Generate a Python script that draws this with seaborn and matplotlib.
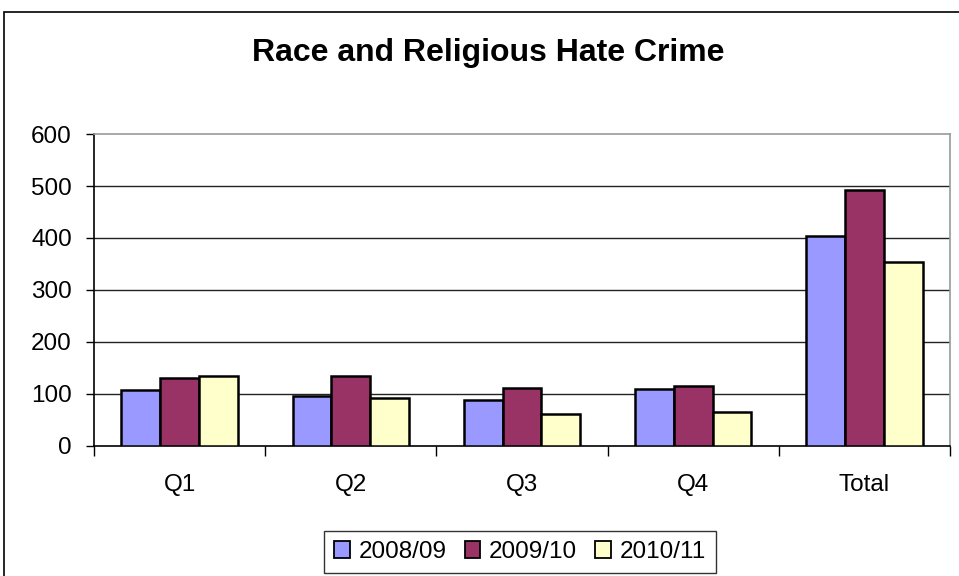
import matplotlib
matplotlib.use("Agg")
import matplotlib.pyplot as plt
import seaborn as sns
import pandas as pd
from matplotlib.patches import Rectangle, Patch

categories = ["Q1", "Q2", "Q3", "Q4", "Total"]
series_names = ["2008/09", "2009/10", "2010/11"]
v_2008 = [108, 97, 89, 109, 404]
v_2009 = [131, 134, 112, 116, 493]
v_2010 = [134, 92, 62, 65, 353]
colors = ["#9999FF", "#993366", "#FFFFCC"]
y_ticks = [0, 100, 200, 300, 400, 500, 600]

rows = []
for name, vals in zip(series_names, [v_2008, v_2009, v_2010]):
    for c, v in zip(categories, vals):
        rows.append({"cat": c, "year": name, "value": v})
df = pd.DataFrame(rows)

sns.set_style("white")
plt.rcParams["font.family"] = ["Liberation Sans", "DejaVu Sans"]
plt.rcParams["text.color"] = "black"
plt.rcParams["xtick.color"] = "black"
plt.rcParams["ytick.color"] = "black"

fig = plt.figure(figsize=(9.59, 5.76), dpi=100)
ax = fig.add_axes([94/959, 1-446/576, (950-94)/959, (446-134)/576])

sns.barplot(data=df, x="cat", y="value", hue="year", order=categories,
            hue_order=series_names, palette=colors, saturation=1, width=0.68, gap=0,
            edgecolor="black", linewidth=1.8, ax=ax, legend=False, zorder=3)

ax.set_ylim(0, 600)
ax.set_xlim(-0.5, 4.5)
ax.set_yticks(y_ticks)
ax.set_yticklabels([str(t) for t in y_ticks], fontsize=17.5, color="black")
for t in y_ticks[1:-1]:
    ax.axhline(t, color="#222222", lw=1.0, zorder=1)

ax.set_xticks([-0.5, 0.5, 1.5, 2.5, 3.5, 4.5])
ax.set_xticklabels([])
ax.set_xticks(range(len(categories)), minor=True)
ax.set_xticklabels(categories, minor=True, fontsize=17.5, color="black")
ax.tick_params(axis="x", which="major", length=7, width=1, color="black", direction="out", bottom=True)
ax.tick_params(axis="x", which="minor", length=0, pad=20)
ax.tick_params(axis="y", length=6, width=1, color="black", direction="out", left=True, pad=10)
ax.set_xlabel("")
ax.set_ylabel("")

for s in ["left", "bottom"]:
    ax.spines[s].set_color("black")
    ax.spines[s].set_linewidth(1.2)
for s in ["top", "right"]:
    ax.spines[s].set_color("#999999")
    ax.spines[s].set_linewidth(1.2)
    ax.spines[s].set_visible(True)

fig.text(488/959, 1-53/576, "Race and Religious Hate Crime", ha="center", va="center",
         fontsize=23, fontweight="bold", color="black")

handles = [Patch(facecolor=c, edgecolor="black", linewidth=1.3) for c in colors]
leg = fig.legend(handles, series_names, loc="center", bbox_to_anchor=(520/959, 1-552/576),
                 ncol=3, fontsize=17.5, frameon=True, fancybox=False, handlelength=0.65,
                 handleheight=0.65, handletextpad=0.35, columnspacing=0.75, borderpad=0.4)
leg.get_frame().set_edgecolor("black")
leg.get_frame().set_linewidth(1.0)
for txt in leg.get_texts():
    txt.set_color("black")

fig.patches.append(Rectangle((4/959, -0.1), 1.2, 1-12/576+0.1, transform=fig.transFigure,
                             fill=False, edgecolor="black", lw=1.2))

fig.savefig("out.png", dpi=100)
